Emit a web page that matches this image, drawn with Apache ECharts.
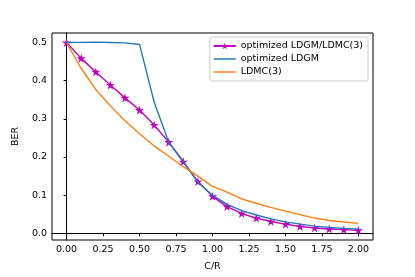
<!DOCTYPE html>
<html>
<head>
<meta charset="utf-8">
<script src="https://cdn.jsdelivr.net/npm/echarts@6/dist/echarts.min.js"></script>
<style>html,body{margin:0;padding:0;background:#fff;}#c{width:415px;height:277px;}</style>
</head>
<body>
<div id="c"></div>
<script>
const xValues = [0, 0.1, 0.2, 0.3, 0.4, 0.5, 0.6, 0.7, 0.8, 0.9, 1.0, 1.1, 1.2, 1.3, 1.4, 1.5, 1.6, 1.7, 1.8, 1.9, 2.0];
const optLdgmLdmc = [0.5, 0.4585, 0.423, 0.3886, 0.355, 0.323, 0.284, 0.239, 0.1876, 0.1357, 0.097, 0.070, 0.052, 0.040, 0.031, 0.024, 0.018, 0.014, 0.0114, 0.0096, 0.0078];
const optLdgm = [0.5, 0.5005, 0.501, 0.5, 0.499, 0.495, 0.344, 0.239, 0.1876, 0.134, 0.100, 0.076, 0.0596, 0.048, 0.038, 0.030, 0.024, 0.019, 0.0155, 0.013, 0.011];
const ldmc3 = [0.5, 0.432, 0.377, 0.334, 0.295, 0.261, 0.229, 0.202, 0.1746, 0.150, 0.123, 0.108, 0.090, 0.0788, 0.068, 0.058, 0.049, 0.040, 0.0337, 0.0295, 0.026];
const xTicks = [0, 0.25, 0.5, 0.75, 1.0, 1.25, 1.5, 1.75, 2.0];
const yTicks = [0, 0.1, 0.2, 0.3, 0.4, 0.5];
const seriesNames = ['optimized LDGM/LDMC(3)', 'optimized LDGM', 'LDMC(3)'];

const star = 'path://M50,0 L61.2,34.5 L97.6,34.5 L68.2,55.9 L79.4,90.5 L50,69.1 L20.6,90.5 L31.8,55.9 L2.4,34.5 L38.8,34.5 Z';
const lineIcon = 'path://M0,0 L30,0 L30,2 L0,2 Z';
const font = 'DejaVu Sans';
const pair = (ys) => xValues.map((x, i) => [x, ys[i]]);

const chart = echarts.init(document.getElementById('c'), null, {renderer: 'canvas'});
chart.setOption({
  animation: false,
  backgroundColor: '#fff',
  grid: {left: 52, right: 42, top: 33, bottom: 35, show: true, borderColor: '#000', borderWidth: 1, backgroundColor: 'transparent'},
  xAxis: {
    type: 'value', min: -0.1, max: 2.1,
    name: 'C/R', nameLocation: 'middle', nameGap: 22,
    nameTextStyle: {fontFamily: font, fontSize: 9.5, color: '#000'},
    axisLine: {show: true, lineStyle: {color: '#000', width: 1}},
    axisTick: {show: true, length: 3, lineStyle: {color: '#000'}, customValues: xTicks},
    axisLabel: {fontFamily: font, fontSize: 9.5, color: '#000', margin: 5, customValues: xTicks, formatter: v => v.toFixed(2)},
    splitLine: {show: false}
  },
  yAxis: {
    type: 'value', min: -0.0175, max: 0.525,
    name: 'BER', nameLocation: 'middle', nameGap: 23, nameRotate: 90,
    nameTextStyle: {fontFamily: font, fontSize: 9.5, color: '#000'},
    axisLine: {show: true, lineStyle: {color: '#000', width: 1}},
    axisTick: {show: true, length: 3, lineStyle: {color: '#000'}, customValues: yTicks},
    axisLabel: {fontFamily: font, fontSize: 9.5, color: '#000', margin: 5, customValues: yTicks, formatter: v => v.toFixed(1)},
    splitLine: {show: false}
  },
  legend: {
    right: 47, top: 37, orient: 'vertical',
    itemWidth: 22, itemHeight: 8, itemGap: 3,
    padding: [4, 5, 4, 3],
    borderColor: '#ccc', borderWidth: 1, borderRadius: 2,
    backgroundColor: 'rgba(255,255,255,0.8)',
    textStyle: {fontFamily: font, fontSize: 9.5, color: '#000'},
    data: [
      {name: seriesNames[0]},
      {name: seriesNames[1], icon: lineIcon},
      {name: seriesNames[2], icon: lineIcon}
    ]
  },
  series: [
    {name: seriesNames[0], type: 'line', data: pair(optLdgmLdmc), color: '#bf00bf',
     symbol: star, symbolSize: 9, showSymbol: true, lineStyle: {width: 1.4}, z: 2},
    {name: seriesNames[1], type: 'line', data: pair(optLdgm), color: '#1f77b4',
     symbol: 'none', lineStyle: {width: 1.4}, z: 3},
    {name: seriesNames[2], type: 'line', data: pair(ldmc3), color: '#ff7f0e',
     symbol: 'none', lineStyle: {width: 1.4}, z: 4}
  ]
});
</script>
</body>
</html>
